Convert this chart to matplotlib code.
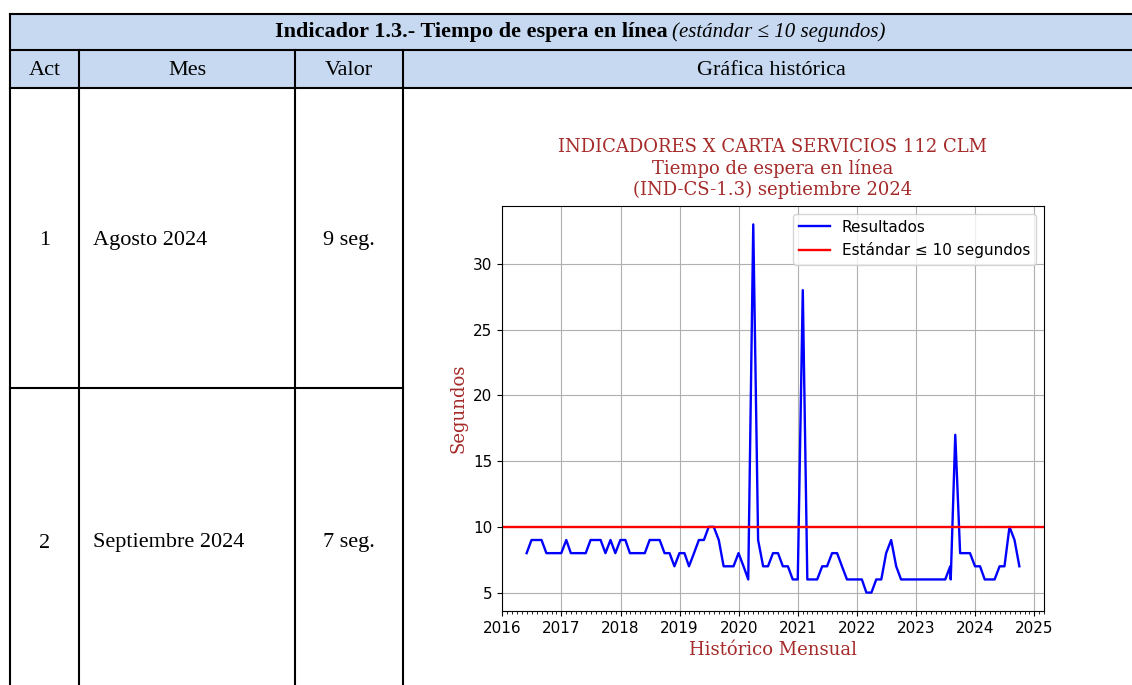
import pandas as pd
from matplotlib import pyplot as plt
from matplotlib import dates as mdates
from matplotlib.patches import Rectangle

# -----------------------------------------------------------------------------
# DATOS
# -----------------------------------------------------------------------------

# Valores mensuales (fin de mes) desde mayo 2016 hasta septiembre 2024
fecha_inicio = "2016-05-31"
fecha_fin = "2024-09-30"
valores = [
    8, 9, 9, 9, 8, 8, 8, 8,                 # 2016 (may-dic)
    9, 8, 8, 8, 8, 9, 9, 9, 8, 9, 8, 9,     # 2017
    9, 8, 8, 8, 8, 9, 9, 9, 8, 8, 7, 8,     # 2018
    8, 7, 8, 9, 9, 10, 10, 9, 7, 7, 7, 8,   # 2019
    7, 6, 33, 9, 7, 7, 8, 8, 7, 7, 6, 6,    # 2020
    28, 6, 6, 6, 7, 7, 8, 8, 7, 6, 6, 6,    # 2021
    6, 5, 5, 6, 6, 8, 9, 7, 6, 6, 6, 6,     # 2022
    6, 6, 6, 6, 6, 6, 7, 17, 8, 8, 8, 7,    # 2023
    7, 6, 6, 6, 7, 7, 10, 9, 7,             # 2024 (ene-sep)
]
# registro duplicado a principios de agosto 2023
extra_fecha = "2023-08-03"
extra_valor = 6

estandar = 10

# Tabla
titulo_bold = "Indicador 1.3.- Tiempo de espera en línea"
titulo_italic = "(estándar ≤ 10 segundos)"
cabeceras = ["Act", "Mes", "Valor", "Gráfica histórica"]
acts = ["1", "2"]
meses = ["Agosto 2024", "Septiembre 2024"]
valores_tabla = ["9 seg.", "7 seg."]

AZUL_CAB = "#c6d9f1"
ROJO_TXT = "#a52a2a"
FUENTE_TABLA = ["Liberation Serif", "DejaVu Serif"]
TAM_TABLA = 16

serie = pd.Series(valores, index=pd.date_range(fecha_inicio, fecha_fin, freq="ME"))
serie.loc[pd.Timestamp(extra_fecha)] = extra_valor
serie = serie.sort_index()

# -----------------------------------------------------------------------------
# TABLA (coordenadas en pixeles)
# -----------------------------------------------------------------------------

fig = plt.figure(figsize=(11.32, 6.85), dpi=100)
tab = fig.add_axes([0, 0, 1, 1])
tab.set_xlim(0, 1132)
tab.set_ylim(685, 0)
tab.axis("off")

x_izq, x_der = 10, 1140
cols = [10, 79, 295, 403, 1140]
lw = 1.5

tab.add_patch(Rectangle((x_izq, 14), x_der - x_izq, 74, fc=AZUL_CAB, ec="none"))
for y in (14, 50, 88):
    tab.plot([x_izq, x_der], [y, y], color="black", lw=lw)
tab.plot([10, 403], [388, 388], color="black", lw=lw)
tab.plot([10, 10], [14, 690], color="black", lw=lw)
for x in cols[1:4]:
    tab.plot([x, x], [50, 690], color="black", lw=lw)

tab.text(668, 32, titulo_bold, ha="right", va="center", fontsize=TAM_TABLA,
         fontweight="bold", family=FUENTE_TABLA)
tab.text(672, 32, titulo_italic, ha="left", va="center", fontsize=TAM_TABLA - 1,
         style="italic", family=FUENTE_TABLA)

for i, cab in enumerate(cabeceras):
    xc = (cols[i] + cols[i + 1]) / 2
    tab.text(xc, 70, cab, ha="center", va="center", fontsize=TAM_TABLA,
             family=FUENTE_TABLA)

for act, mes, val, yc in zip(acts, meses, valores_tabla, (240, 543)):
    tab.text((cols[0] + cols[1]) / 2, yc, act, ha="center", va="center",
             fontsize=TAM_TABLA, family=FUENTE_TABLA)
    tab.text(93, yc, mes, ha="left", va="center", fontsize=TAM_TABLA,
             family=FUENTE_TABLA)
    tab.text((cols[2] + cols[3]) / 2, yc, val, ha="center", va="center",
             fontsize=TAM_TABLA, family=FUENTE_TABLA)

# -----------------------------------------------------------------------------
# GRAFICA
# -----------------------------------------------------------------------------

ax = fig.add_axes([502 / 1132, 1 - 611 / 685, 542 / 1132, 405 / 685])
ax.plot(serie.index, serie.values, color="blue", lw=1.7, label="Resultados")
ax.axhline(estandar, color="red", lw=1.7, label="Estándar ≤ 10 segundos")

ax.set_title("INDICADORES X CARTA SERVICIOS 112 CLM\nTiempo de espera en línea\n"
             "(IND-CS-1.3) septiembre 2024",
             color=ROJO_TXT, family="DejaVu Serif", fontsize=13, pad=8)
ax.set_ylabel("Segundos", color=ROJO_TXT, family="DejaVu Serif", fontsize=13)
ax.set_xlabel("Histórico Mensual", color=ROJO_TXT, family="DejaVu Serif", fontsize=13)

ax.xaxis.set_major_locator(mdates.YearLocator())
ax.xaxis.set_major_formatter(mdates.DateFormatter("%Y"))
ax.xaxis.set_minor_locator(mdates.MonthLocator())
ax.tick_params(labelsize=11)
ax.grid(True)
ax.legend(loc="upper right", fontsize=11)

fig.savefig("out.png", dpi=100)
